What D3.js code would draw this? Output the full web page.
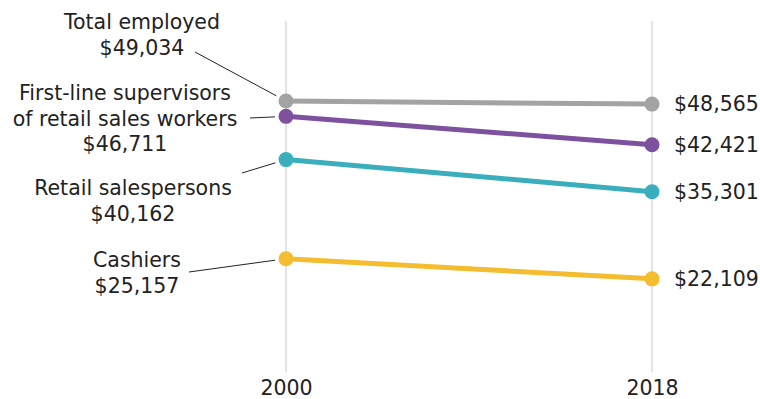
<!DOCTYPE html>
<html><head><meta charset="utf-8">
<script src="https://cdn.jsdelivr.net/npm/d3@7"></script>
<style>
html,body{margin:0;padding:0;background:#fff;}
text{font-family:"DejaVu Sans","Noto Sans",sans-serif;fill:#222;}
</style></head>
<body><svg id="c" width="760" height="399"></svg>
<script>
const years = ["2000", "2018"];
const series = ["Total employed", "First-line supervisors of retail sales workers", "Retail salespersons", "Cashiers"];
const values2000 = [49034, 46711, 40162, 25157];
const values2018 = [48565, 42421, 35301, 22109];
const colors = ["#a3a3a3", "#7d519e", "#3aaebd", "#f3bd2f"];
const leftLabelLines = [
  ["Total employed", "$49,034"],
  ["First-line supervisors", "of retail sales workers", "$46,711"],
  ["Retail salespersons", "$40,162"],
  ["Cashiers", "$25,157"]
];
const leftLabelCenters = [142, 125, 133, 137];
const leftLabelTop = [22, 93, 188, 260];
const connectors = [[195,52],[250,118],[242,173],[189,272]];

const FS = 20.5;
const svg = d3.select("#c");
const x = d3.scalePoint().domain(years).range([286, 652]);
const y = d3.scaleLinear().domain([8000, 61000]).range([372, 22]);
const fmt = d3.format("$,");

// gridlines
svg.selectAll("line.grid").data(years).join("line")
  .attr("x1", d => x(d)).attr("x2", d => x(d))
  .attr("y1", 21).attr("y2", 372)
  .attr("stroke", "#c8c8c8").attr("stroke-width", 1);

// axis labels
const xAxis = d3.axisBottom(x).tickSize(0).tickPadding(0);
const ax = svg.append("g").attr("transform", "translate(0,388)").call(xAxis);
ax.select(".domain").remove();
ax.selectAll("text").attr("font-size", FS).attr("dy", "0.35em").style("fill", "#222")
  .attr("font-family", "'DejaVu Sans','Noto Sans',sans-serif");

const data = series.map((s, i) => ({name: s, v: [values2000[i], values2018[i]], c: colors[i], i}));

// connectors
data.forEach(d => {
  const [cx, cy] = connectors[d.i];
  const px = x(years[0]), py = y(d.v[0]);
  const ang = Math.atan2(py - cy, px - cx);
  svg.append("line").attr("x1", cx).attr("y1", cy)
    .attr("x2", px - 11 * Math.cos(ang)).attr("y2", py - 11 * Math.sin(ang))
    .attr("stroke", "#222").attr("stroke-width", 1);
});

// lines
svg.selectAll("line.s").data(data).join("line")
  .attr("x1", x(years[0])).attr("x2", x(years[1]))
  .attr("y1", d => y(d.v[0])).attr("y2", d => y(d.v[1]))
  .attr("stroke", d => d.c).attr("stroke-width", 5);

// dots
data.forEach(d => {
  years.forEach((yr, j) => {
    svg.append("circle").attr("cx", x(yr)).attr("cy", y(d.v[j])).attr("r", 7.5).attr("fill", d.c);
  });
});

// right labels
svg.selectAll("text.r").data(data).join("text")
  .attr("x", x(years[1]) + 22).attr("y", d => y(d.v[1]))
  .attr("dy", "0.35em").attr("font-size", FS)
  .text(d => fmt(d.v[1]));

// left labels
leftLabelLines.forEach((lines, i) => {
  lines.forEach((t, k) => {
    svg.append("text").attr("x", leftLabelCenters[i]).attr("y", leftLabelTop[i] + k * 25.5)
      .attr("dy", "0.35em").attr("text-anchor", "middle").attr("font-size", FS).text(t);
  });
});
</script></body></html>
